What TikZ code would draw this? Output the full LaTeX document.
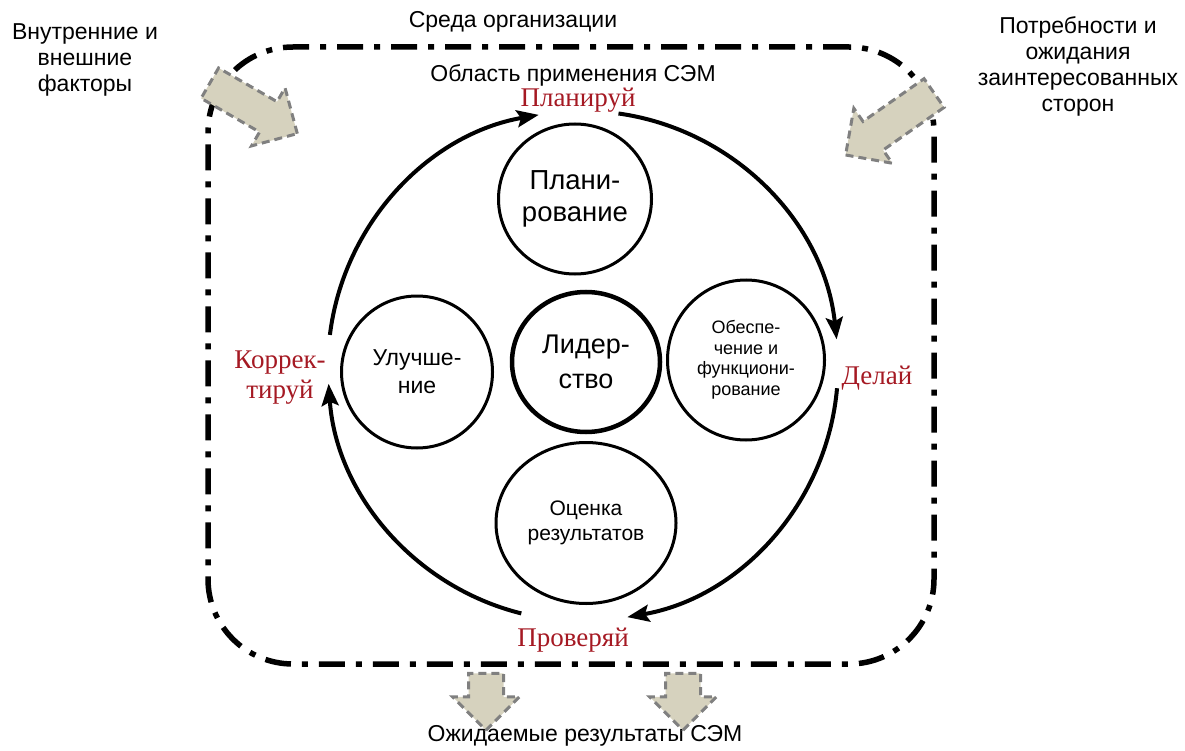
\documentclass[tikz,border=0pt]{standalone}
\usepackage{fontspec}
\setmainfont{Liberation Sans}
\newfontfamily\phasefont{Liberation Serif}
\usetikzlibrary{shapes.geometric, shapes.arrows, arrows.meta}
\definecolor{phasered}{RGB}{165,25,35}
\definecolor{flowfill}{RGB}{214,210,190}
\definecolor{flowedge}{RGB}{128,128,128}
\tikzstyle{stage} = [ellipse, draw=black, line width=3pt, align=center, inner sep=0pt]
\tikzstyle{leadstage} = [stage, line width=4.5pt]
\tikzstyle{phaselabel} = [font=\phasefont\fontsize{27}{30}\selectfont, text=phasered, align=center]
\tikzstyle{caption} = [font=\fontsize{23}{26}\selectfont, align=center]
\tikzstyle{envbox} = [rectangle, draw=black, line width=5.5pt, rounded corners=85pt, dash pattern=on 26pt off 11pt on 6pt off 11pt]
\tikzstyle{inflow} = [single arrow, fill=flowfill, draw=flowedge, line width=3pt, dash pattern=on 8pt off 5pt, inner xsep=0pt, inner ysep=16pt, single arrow head extend=16pt]
\tikzstyle{cyclearc} = [line width=4pt, -{Stealth[length=22pt,width=17pt,inset=4pt]}]

\begin{document}
\begin{tikzpicture}[x=1pt, y=-1pt]
\useasboundingbox (0,0) rectangle (1185,751);

\node at (571,355.5) (env) [envbox, minimum width=726pt, minimum height=617pt] {};

\node at (85,60) (factors) [caption] {Внутренние и\\внешние\\факторы};
\node at (513,22) (orgenv) [caption] {Среда организации};
\node at (573,75) (scope) [caption] {Область применения СЭМ};
\node at (1078,66) (needs) [caption] {Потребности и\\ожидания\\заинтересованных\\сторон};
\node at (585,736) (results) [caption] {Ожидаемые результаты СЭМ};

\node at (246,104) (flowA) [inflow, rotate=-30, minimum height=101pt] {};
\node at (897,119) (flowB) [inflow, rotate=-145, minimum height=108pt] {};
\node at (486,693) (outA) [inflow, rotate=-90, minimum height=57pt] {};
\node at (683,693) (outB) [inflow, rotate=-90, minimum height=57pt] {};

\node at (578,100) (plan) [phaselabel] {Планируй};
\node at (877,378) (do) [phaselabel] {Делай};
\node at (573,640) (check) [phaselabel] {Проверяй};
\node at (280,378) (act) [phaselabel] {Коррек-\\тируй};

\node at (575,199) (planning) [stage, minimum width=153pt, minimum height=150pt, font=\fontsize{27.5}{32}\selectfont] {Плани-\\рование};
\node at (586,362) (leader) [leadstage, minimum width=148pt, minimum height=140pt, font=\fontsize{27}{35}\selectfont] {Лидер-\\ство};
\node at (417,372) (improve) [stage, minimum width=151pt, minimum height=152pt, font=\fontsize{23}{28}\selectfont] {Улучше-\\ние};
\node at (746,360) (support) [stage, minimum width=157pt, minimum height=160pt, font=\fontsize{18}{20.5}\selectfont] {Обеспе-\\чение и\\функциони-\\рование};
\node at (586,523) (evaluate) [stage, minimum width=180pt, minimum height=161pt, font=\fontsize{21}{25}\selectfont] {Оценка\\результатов};

\coordinate (hub) at (583,366);
\draw [cyclearc] ([shift={(82:255pt)}]hub) arc [start angle=82, end angle=6, radius=255pt];
\draw [cyclearc] ([shift={(-5:255pt)}]hub) arc [start angle=-5, end angle=-80, radius=255pt];
\draw [cyclearc] ([shift={(-104:255pt)}]hub) arc [start angle=-104, end angle=-176, radius=255pt];
\draw [cyclearc] ([shift={(173:255pt)}]hub) arc [start angle=173, end angle=100, radius=255pt];

\end{tikzpicture}
\end{document}
